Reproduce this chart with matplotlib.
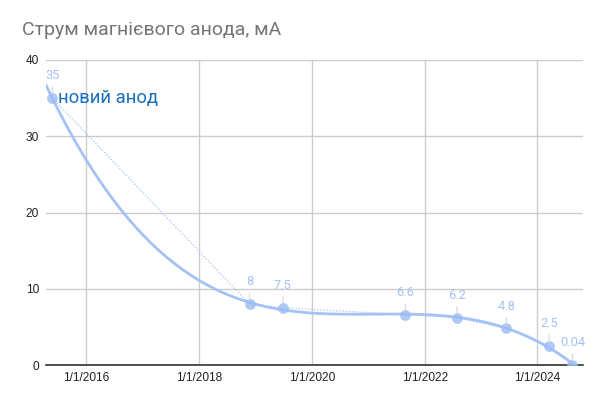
import datetime as dt

import matplotlib
matplotlib.use("Agg")
import matplotlib.pyplot as plt
import matplotlib.dates as mdates
import numpy as np

# measurement dates and anode current, mA
dates = [
    dt.date(2015, 5, 27),
    dt.date(2018, 11, 24),
    dt.date(2019, 6, 28),
    dt.date(2021, 8, 29),
    dt.date(2022, 7, 30),
    dt.date(2023, 6, 14),
    dt.date(2024, 3, 17),
    dt.date(2024, 8, 14),
]
current = [35, 8, 7.5, 6.6, 6.2, 4.8, 2.5, 0.04]
point_labels = ["35", "8", "7.5", "6.6", "6.2", "4.8", "2.5", "0.04"]
note = "новий анод"
title = "Струм магнієвого анода, мА"

x_ticks = [dt.date(2016, 1, 1), dt.date(2018, 1, 1), dt.date(2020, 1, 1),
           dt.date(2022, 1, 1), dt.date(2024, 1, 1)]
y_ticks = [0, 10, 20, 30, 40]

blue = "#a4c2f4"
grid = "#cccccc"

fig = plt.figure(figsize=(6.0, 4.04), dpi=100)
ax = fig.add_axes([46 / 600, 39 / 404, 537 / 600, 305 / 404])

xs = mdates.date2num(dates)
x_lo = mdates.date2num(dt.date(2015, 4, 16))
x_hi = mdates.date2num(dt.date(2024, 10, 22))

# polynomial trendline over the whole axis range
c = xs.mean()
coef = np.polyfit(xs - c, current, 4)
xt = np.linspace(x_lo, x_hi, 400)
ax.plot(xt, np.polyval(coef, xt - c), color=blue, lw=2, zorder=3,
        solid_capstyle="round")

# series: dotted line with markers
ax.plot(xs, current, color=blue, lw=0.9, ls=(0, (1, 1.5)), zorder=3)
ax.plot(xs, current, "o", color="#9dbcf2", ms=7.8, alpha=0.8,
        markeredgewidth=0, zorder=4)

for x, y, lab in zip(xs, current, point_labels):
    ax.annotate(lab, (x, y), xytext=(0, 16), textcoords="offset points",
                ha="center", va="center", color=blue, fontsize=9.3,
                family="Roboto", zorder=5,
                arrowprops=dict(arrowstyle="-", color="#dddddd", lw=1,
                                shrinkA=1.5, shrinkB=3.5))

ax.annotate(note, (xs[0], current[0]), xytext=(4, 0),
            textcoords="offset points", ha="left", va="center",
            color="#1a6fbd", fontsize=13.3, family="Roboto", zorder=6)

ax.set_xlim(x_lo, x_hi)
ax.set_ylim(0, 40)
ax.set_xticks(mdates.date2num(x_ticks))
ax.set_xticklabels([f"{d.month}/{d.day}/{d.year}" for d in x_ticks])
ax.set_yticks(y_ticks)

ax.grid(True, color=grid, lw=1)
ax.set_axisbelow(True)
for s in ["top", "right", "left"]:
    ax.spines[s].set_visible(False)
ax.spines["bottom"].set_color("#333333")
ax.spines["bottom"].set_linewidth(1.2)
ax.tick_params(length=0, labelsize=8.6, labelcolor="#222222", pad=5)
for t in ax.get_xticklabels() + ax.get_yticklabels():
    t.set_family("Liberation Sans")

fig.text(22 / 600, 1 - 30 / 404, title, ha="left", va="center",
         fontsize=14, color="#757575", family="Roboto")

fig.savefig("out.png", dpi=100)
